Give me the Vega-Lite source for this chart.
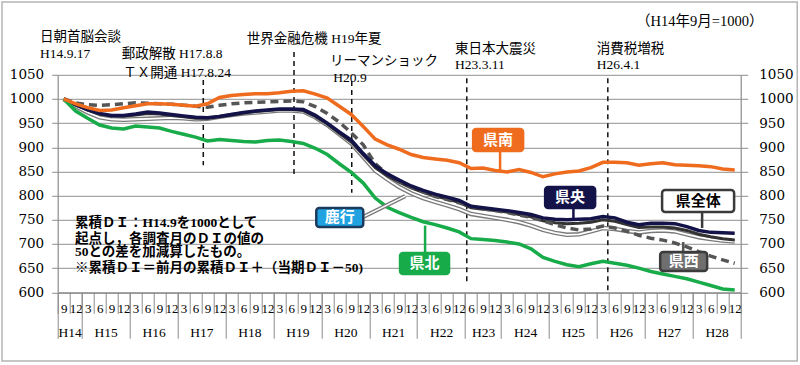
{
  "$schema": "https://vega.github.io/schema/vega-lite/v6.json",
  "width": 683,
  "height": 217.5,
  "autosize": {"type": "none"},
  "padding": {"left": 57.7, "top": 74.8, "right": 59.3, "bottom": 72.7},
  "background": "#ffffff",
  "config": {
    "view": {"stroke": null},
    "axis": {"labelColor": "#000000", "title": null}
  },
  "datasets": {
    "di": [
      {"p":"H14.9","i":0,"all":1000,"chuo":1000,"nishi":1000,"rokko":1000,"kita":1000,"minami":1000},
      {"p":"H14.12","i":1,"all":987,"chuo":988,"nishi":992,"rokko":985,"kita":975,"minami":990},
      {"p":"H15.3","i":2,"all":977,"chuo":978,"nishi":988,"rokko":972,"kita":960,"minami":982},
      {"p":"H15.6","i":3,"all":969,"chuo":970,"nishi":987,"rokko":962,"kita":946,"minami":976},
      {"p":"H15.9","i":4,"all":965,"chuo":966,"nishi":988,"rokko":958,"kita":940,"minami":977},
      {"p":"H15.12","i":5,"all":964,"chuo":966,"nishi":990,"rokko":957,"kita":938,"minami":982},
      {"p":"H16.3","i":6,"all":967,"chuo":969,"nishi":992,"rokko":958,"kita":944,"minami":986},
      {"p":"H16.6","i":7,"all":970,"chuo":973,"nishi":991,"rokko":959,"kita":942,"minami":990},
      {"p":"H16.9","i":8,"all":969,"chuo":971,"nishi":990,"rokko":960,"kita":940,"minami":990},
      {"p":"H16.12","i":9,"all":966,"chuo":968,"nishi":989,"rokko":961,"kita":933,"minami":989},
      {"p":"H17.3","i":10,"all":963,"chuo":965,"nishi":987,"rokko":960,"kita":927,"minami":987},
      {"p":"H17.6","i":11,"all":960,"chuo":962,"nishi":985,"rokko":958,"kita":921,"minami":985},
      {"p":"H17.9","i":12,"all":960,"chuo":961,"nishi":983,"rokko":959,"kita":913,"minami":990},
      {"p":"H17.12","i":13,"all":963,"chuo":964,"nishi":987,"rokko":963,"kita":916,"minami":1003},
      {"p":"H18.3","i":14,"all":967,"chuo":968,"nishi":990,"rokko":967,"kita":914,"minami":1007},
      {"p":"H18.6","i":15,"all":971,"chuo":972,"nishi":992,"rokko":970,"kita":912,"minami":1009},
      {"p":"H18.9","i":16,"all":974,"chuo":975,"nishi":993,"rokko":972,"kita":911,"minami":1011},
      {"p":"H18.12","i":17,"all":976,"chuo":977,"nishi":994,"rokko":974,"kita":914,"minami":1011},
      {"p":"H19.3","i":18,"all":978,"chuo":979,"nishi":995,"rokko":976,"kita":915,"minami":1013},
      {"p":"H19.6","i":19,"all":978,"chuo":979,"nishi":996,"rokko":976,"kita":912,"minami":1016},
      {"p":"H19.9","i":20,"all":976,"chuo":978,"nishi":994,"rokko":974,"kita":908,"minami":1017},
      {"p":"H19.12","i":21,"all":964,"chuo":966,"nishi":984,"rokko":962,"kita":898,"minami":1010},
      {"p":"H20.3","i":22,"all":948,"chuo":950,"nishi":970,"rokko":946,"kita":885,"minami":1002},
      {"p":"H20.6","i":23,"all":929,"chuo":932,"nishi":952,"rokko":927,"kita":866,"minami":985},
      {"p":"H20.9","i":24,"all":911,"chuo":915,"nishi":930,"rokko":908,"kita":848,"minami":968},
      {"p":"H20.12","i":25,"all":884,"chuo":887,"nishi":905,"rokko":880,"kita":826,"minami":943},
      {"p":"H21.3","i":26,"all":858,"chuo":862,"nishi":866,"rokko":852,"kita":795,"minami":917},
      {"p":"H21.6","i":27,"all":841,"chuo":845,"nishi":845,"rokko":834,"kita":776,"minami":905},
      {"p":"H21.9","i":28,"all":828,"chuo":832,"nishi":830,"rokko":818,"kita":765,"minami":896},
      {"p":"H21.12","i":29,"all":816,"chuo":820,"nishi":818,"rokko":805,"kita":755,"minami":885},
      {"p":"H22.3","i":30,"all":807,"chuo":811,"nishi":808,"rokko":795,"kita":746,"minami":879},
      {"p":"H22.6","i":31,"all":799,"chuo":803,"nishi":798,"rokko":787,"kita":740,"minami":876},
      {"p":"H22.9","i":32,"all":793,"chuo":797,"nishi":792,"rokko":780,"kita":733,"minami":873},
      {"p":"H22.12","i":33,"all":786,"chuo":790,"nishi":785,"rokko":772,"kita":725,"minami":868},
      {"p":"H23.6","i":34,"all":775,"chuo":778,"nishi":778,"rokko":762,"kita":711,"minami":856},
      {"p":"H23.9","i":35,"all":772,"chuo":775,"nishi":773,"rokko":758,"kita":709,"minami":857},
      {"p":"H23.12","i":36,"all":769,"chuo":772,"nishi":769,"rokko":754,"kita":707,"minami":852},
      {"p":"H24.3","i":37,"all":766,"chuo":769,"nishi":765,"rokko":750,"kita":704,"minami":849},
      {"p":"H24.6","i":38,"all":761,"chuo":765,"nishi":760,"rokko":745,"kita":700,"minami":854},
      {"p":"H24.9","i":39,"all":756,"chuo":761,"nishi":755,"rokko":738,"kita":690,"minami":848},
      {"p":"H24.12","i":40,"all":748,"chuo":754,"nishi":748,"rokko":729,"kita":672,"minami":839},
      {"p":"H25.3","i":41,"all":744,"chuo":751,"nishi":740,"rokko":723,"kita":664,"minami":845},
      {"p":"H25.6","i":42,"all":742,"chuo":750,"nishi":733,"rokko":719,"kita":657,"minami":849},
      {"p":"H25.9","i":43,"all":743,"chuo":751,"nishi":729,"rokko":720,"kita":653,"minami":851},
      {"p":"H25.12","i":44,"all":745,"chuo":752,"nishi":731,"rokko":726,"kita":659,"minami":858},
      {"p":"H26.3","i":45,"all":750,"chuo":757,"nishi":737,"rokko":733,"kita":664,"minami":869},
      {"p":"H26.6","i":46,"all":747,"chuo":754,"nishi":733,"rokko":731,"kita":660,"minami":869},
      {"p":"H26.9","i":47,"all":740,"chuo":745,"nishi":726,"rokko":727,"kita":656,"minami":868},
      {"p":"H26.12","i":48,"all":734,"chuo":740,"nishi":718,"rokko":724,"kita":650,"minami":863},
      {"p":"H27.3","i":49,"all":735,"chuo":743,"nishi":712,"rokko":727,"kita":643,"minami":866},
      {"p":"H27.6","i":50,"all":735,"chuo":743,"nishi":708,"rokko":728,"kita":638,"minami":868},
      {"p":"H27.9","i":51,"all":733,"chuo":742,"nishi":702,"rokko":726,"kita":633,"minami":864},
      {"p":"H27.12","i":52,"all":728,"chuo":736,"nishi":694,"rokko":720,"kita":628,"minami":863},
      {"p":"H28.3","i":53,"all":720,"chuo":728,"nishi":684,"rokko":714,"kita":621,"minami":862},
      {"p":"H28.6","i":54,"all":715,"chuo":724,"nishi":675,"rokko":710,"kita":614,"minami":860},
      {"p":"H28.9","i":55,"all":711,"chuo":723,"nishi":667,"rokko":707,"kita":607,"minami":855},
      {"p":"H28.12","i":56,"all":708,"chuo":722,"nishi":660,"rokko":705,"kita":605,"minami":853}
    ],
    "events": [
      {"x": 11.65, "top": 1039, "bottom": 863},
      {"x": 19.22, "top": 1097, "bottom": 837},
      {"x": 24.04, "top": 1037, "bottom": 806},
      {"x": 33.64, "top": 1043, "bottom": 617},
      {"x": 45.41, "top": 1043, "bottom": 600}
    ],
    "eventLabels": [
      {"x": -1.977, "y": 1127.3, "text": "日朝首脳会談"},
      {"x": -1.977, "y": 1093.1, "text": "H14.9.17"},
      {"x": 4.84, "y": 1093.1, "text": "郵政解散 H17.8.8"},
      {"x": 4.976, "y": 1054.2, "text": "ＴＸ開通 H17.8.24"},
      {"x": 15.28, "y": 1124.1, "text": "世界金融危機 H19年夏"},
      {"x": 22.23, "y": 1078.6, "text": "リーマンショック"},
      {"x": 22.5, "y": 1043.5, "text": "H20.9"},
      {"x": 32.66, "y": 1103.5, "text": "東日本大震災"},
      {"x": 32.66, "y": 1070.3, "text": "H23.3.11"},
      {"x": 44.49, "y": 1103.5, "text": "消費税増税"},
      {"x": 44.49, "y": 1070.3, "text": "H26.4.1"}
    ],
    "notes": [
      {"x": 0.944, "y": 742.4, "text": "累積ＤＩ：H14.9を1000として"},
      {"x": 0.944, "y": 710.3, "text": "起点し，各調査月のＤＩの値の"},
      {"x": 0.944, "y": 682.4, "text": "50との差を加減算したもの。"},
      {"x": 0.944, "y": 649.7, "text": "※累積ＤＩ＝前月の累積ＤＩ＋（当期ＤＩ－50)"}
    ],
    "boxes": [
      {"name":"県南","x1":34.17,"x2":38.34,"y1":937.9,"y2":892.4,"tx":36.25,"ty":915.2,"lx":36.42,"ly1":892.4,"ly2":853},
      {"name":"県央","x1":40.18,"x2":44.35,"y1":817.9,"y2":774.5,"tx":42.26,"ty":796.2,"lx":42.54,"ly1":774.5,"ly2":752},
      {"name":"県全体","x1":49.94,"x2":55.95,"y1":811.7,"y2":766.2,"tx":52.95,"ty":789,"lx":53.28,"ly1":766.2,"ly2":733},
      {"name":"県西","x1":49.78,"x2":53.7,"y1":683.4,"y2":644,"tx":51.74,"ty":663.8,"lx":51.7,"ly1":683.4,"ly2":704},
      {"name":"県北","x1":28.07,"x2":32.16,"y1":681.4,"y2":638,"tx":30.12,"ty":659.6,"lx":30.16,"ly1":681.4,"ly2":738},
      {"name":"鹿行","x1":21.08,"x2":25.0,"y1":774.5,"y2":735.2,"tx":23.04,"ty":754.8}
    ],
    "rokkoLink": [
      {"x": 25.0, "y": 756, "x2": 28.5, "y2": 799}
    ]
  },
  "layer": [
    {
      "data": {"values": [{}]},
      "mark": {"type": "rect", "fill": "transparent", "stroke": "#b4b4b4", "strokeWidth": 1.5},
      "encoding": {
        "x": {"datum": -5.15, "type": "quantitative", "scale": {"domain": [-0.5, 56.5], "nice": false, "zero": false}, "axis": null},
        "x2": {"datum": 61.22},
        "y": {"datum": 1200.7, "type": "quantitative", "scale": {"domain": [600, 1050], "nice": false, "zero": false}, "axis": null},
        "y2": {"datum": 457.9}
      }
    },
    {
      "data": {"name": "events"},
      "mark": {"type": "rule", "color": "#111111", "strokeWidth": 1.5, "strokeDash": [5, 4]},
      "encoding": {
        "x": {"field": "x", "type": "quantitative",
          "axis": {"orient": "bottom", "values": [-0.5,0.5,1.5,2.5,3.5,4.5,5.5,6.5,7.5,8.5,9.5,10.5,11.5,12.5,13.5,14.5,15.5,16.5,17.5,18.5,19.5,20.5,21.5,22.5,23.5,24.5,25.5,26.5,27.5,28.5,29.5,30.5,31.5,32.5,33.5,34.5,35.5,36.5,37.5,38.5,39.5,40.5,41.5,42.5,43.5,44.5,45.5,46.5,47.5,48.5,49.5,50.5,51.5,52.5,53.5,54.5,55.5,56.5],
            "labels": false, "ticks": true, "tickSize": 21, "tickColor": "#8c8c8c", "tickWidth": 1,
            "domain": true, "domainColor": "#8c8c8c", "domainWidth": 1.2, "grid": false, "title": null}},
        "y": {"field": "top", "type": "quantitative",
          "axis": {"orient": "left", "values": [600,650,700,750,800,850,900,950,1000,1050], "format": "d",
            "grid": true, "gridColor": "#a6a6a6", "gridWidth": 1.3,
            "domain": true, "domainColor": "#8c8c8c", "domainWidth": 1.2,
            "ticks": true, "tickSize": 6, "tickColor": "#8c8c8c",
            "labelPadding": 8, "labelFont": "DejaVu Serif", "labelFontSize": 13.5, "labelFlush": false, "title": null}},
        "y2": {"field": "bottom"}
      }
    },
    {
      "data": {"name": "di"},
      "mark": {"type": "line", "color": "#7a7a7a", "strokeWidth": 4.5},
      "encoding": {
        "x": {"field": "i", "type": "quantitative",
          "axis": {"orient": "bottom", "values": [0,1,2,3,4,5,6,7,8,9,10,11,12,13,14,15,16,17,18,19,20,21,22,23,24,25,26,27,28,29,30,31,32,33,34,35,36,37,38,39,40,41,42,43,44,45,46,47,48,49,50,51,52,53,54,55,56],
            "ticks": false, "tickSize": 0, "domain": false, "grid": false,
            "labelExpr": "datum.value == 0 ? '9' : datum.value == 1 ? '12' : datum.value < 34 ? '' + ((datum.value - 2) % 4 + 1) * 3 : datum.value < 37 ? '' + (datum.value - 32) * 3 : '' + ((datum.value - 37) % 4 + 1) * 3",
            "labelFont": "Liberation Serif", "labelFontSize": 13, "labelBaseline": "middle", "labelPadding": 16,
            "labelAngle": 0, "labelOverlap": false, "labelFlush": false, "labelBound": false, "title": null}},
        "y": {"field": "rokko", "type": "quantitative",
          "axis": {"orient": "right", "values": [600,650,700,750,800,850,900,950,1000,1050], "format": "d",
            "grid": false, "domain": true, "domainColor": "#8c8c8c", "domainWidth": 1.2,
            "ticks": true, "tickSize": 7, "tickColor": "#8c8c8c",
            "labelPadding": 11, "labelFont": "DejaVu Serif", "labelFontSize": 13.5, "labelFlush": false, "title": null}}
      }
    },
    {
      "data": {"name": "di"},
      "mark": {"type": "line", "color": "#ffffff", "strokeWidth": 1.8},
      "encoding": {
        "x": {"field": "i", "type": "quantitative",
          "axis": {"orient": "bottom", "values": [-0.5,1.5,5.5,9.5,13.5,17.5,21.5,25.5,29.5,33.5,36.5,40.5,44.5,48.5,52.5,56.5],
            "labels": false, "ticks": true, "tickSize": 46, "tickColor": "#8c8c8c", "tickWidth": 1,
            "domain": false, "grid": false, "title": null}},
        "y": {"field": "rokko", "type": "quantitative", "axis": null}
      }
    },
    {
      "data": {"name": "di"},
      "mark": {"type": "line", "color": "#333333", "strokeWidth": 3},
      "encoding": {
        "x": {"field": "i", "type": "quantitative",
          "axis": {"orient": "bottom", "values": [0.5,3.5,7.5,11.5,15.5,19.5,23.5,27.5,31.5,35,38.5,42.5,46.5,50.5,54.5],
            "ticks": false, "tickSize": 0, "domain": false, "grid": false,
            "labelExpr": "'H' + (datum.value < 1 ? 14 : datum.value < 34 ? 15 + floor((datum.value - 1.5) / 4) : datum.value < 37 ? 23 : 24 + floor((datum.value - 36.5) / 4))",
            "labelFont": "Liberation Serif", "labelFontSize": 13.5, "labelBaseline": "middle", "labelPadding": 40,
            "labelAngle": 0, "labelOverlap": false, "labelFlush": false, "labelBound": false, "title": null}},
        "y": {"field": "all", "type": "quantitative", "axis": null}
      }
    },
    {
      "data": {"name": "di"},
      "mark": {"type": "line", "color": "#555555", "strokeWidth": 3.5, "strokeDash": [8, 5]},
      "encoding": {
        "x": {"field": "i", "type": "quantitative", "axis": null},
        "y": {"field": "nishi", "type": "quantitative", "axis": null}
      }
    },
    {
      "data": {"name": "di"},
      "mark": {"type": "line", "color": "#13134a", "strokeWidth": 3.5},
      "encoding": {
        "x": {"field": "i", "type": "quantitative", "axis": null},
        "y": {"field": "chuo", "type": "quantitative", "axis": null}
      }
    },
    {
      "data": {"name": "di"},
      "mark": {"type": "line", "color": "#18ab4a", "strokeWidth": 3.5},
      "encoding": {
        "x": {"field": "i", "type": "quantitative", "axis": null},
        "y": {"field": "kita", "type": "quantitative", "axis": null}
      }
    },
    {
      "data": {"name": "di"},
      "mark": {"type": "line", "color": "#ef6c1f", "strokeWidth": 3.5},
      "encoding": {
        "x": {"field": "i", "type": "quantitative", "axis": null},
        "y": {"field": "minami", "type": "quantitative", "axis": null}
      }
    },
    {
      "data": {"name": "rokkoLink"},
      "mark": {"type": "rule", "color": "#7a7a7a", "strokeWidth": 4},
      "encoding": {
        "x": {"field": "x", "type": "quantitative", "axis": null},
        "y": {"field": "y", "type": "quantitative", "axis": null},
        "x2": {"field": "x2"},
        "y2": {"field": "y2"}
      }
    },
    {
      "data": {"name": "rokkoLink"},
      "mark": {"type": "rule", "color": "#ffffff", "strokeWidth": 1.5},
      "encoding": {
        "x": {"field": "x", "type": "quantitative", "axis": null},
        "y": {"field": "y", "type": "quantitative", "axis": null},
        "x2": {"field": "x2"},
        "y2": {"field": "y2"}
      }
    },
    {
      "data": {"name": "boxes"},
      "transform": [{"filter": "isValid(datum.lx)"}],
      "mark": {"type": "rule", "strokeWidth": 2.5},
      "encoding": {
        "x": {"field": "lx", "type": "quantitative", "axis": null},
        "y": {"field": "ly1", "type": "quantitative", "axis": null},
        "y2": {"field": "ly2"},
        "color": {"field": "name", "type": "nominal", "legend": null,
          "scale": {"domain": ["県南","県央","県全体","県西","県北"], "range": ["#ef6c1f","#13134a","#3b3b3b","#555555","#18ab4a"]}}
      }
    },
    {
      "data": {"name": "boxes"},
      "mark": {"type": "rect", "strokeWidth": 2.5, "cornerRadius": 3},
      "encoding": {
        "x": {"field": "x1", "type": "quantitative", "axis": null},
        "x2": {"field": "x2"},
        "y": {"field": "y1", "type": "quantitative", "axis": null},
        "y2": {"field": "y2"},
        "fill": {"field": "name", "type": "nominal", "legend": null,
          "scale": {"domain": ["県南","県央","県全体","県西","県北","鹿行"], "range": ["#ef6c1f","#13134a","#ffffff","#6f6f6f","#18ab4a","#21a3e1"]}},
        "stroke": {"field": "name", "type": "nominal", "legend": null,
          "scale": {"domain": ["県南","県央","県全体","県西","県北","鹿行"], "range": ["#ef6c1f","#13134a","#3b3b3b","#3b3b3b","#18ab4a","#1c3a5c"]}},
        "strokeDash": {"field": "name", "type": "nominal", "legend": null,
          "scale": {"domain": ["県南","県央","県全体","県西","県北","鹿行"], "range": [[1,0],[1,0],[1,0],[3,2],[1,0],[1,0]]}}
      }
    },
    {
      "data": {"name": "boxes"},
      "transform": [{"filter": "datum.name != '県全体'"}],
      "mark": {"type": "text", "color": "#ffffff", "font": "Noto Sans CJK JP", "fontWeight": "bold", "fontSize": 15, "align": "center", "baseline": "middle"},
      "encoding": {
        "x": {"field": "tx", "type": "quantitative", "axis": null},
        "y": {"field": "ty", "type": "quantitative", "axis": null},
        "text": {"field": "name"}
      }
    },
    {
      "data": {"name": "boxes"},
      "transform": [{"filter": "datum.name == '県全体'"}],
      "mark": {"type": "text", "color": "#000000", "font": "Noto Sans CJK JP", "fontWeight": "bold", "fontSize": 15, "align": "center", "baseline": "middle"},
      "encoding": {
        "x": {"field": "tx", "type": "quantitative", "axis": null},
        "y": {"field": "ty", "type": "quantitative", "axis": null},
        "text": {"field": "name"}
      }
    },
    {
      "data": {"name": "eventLabels"},
      "mark": {"type": "text", "color": "#000000", "font": "Liberation Serif, Noto Sans CJK JP", "fontSize": 13.5, "align": "left", "baseline": "middle"},
      "encoding": {
        "x": {"field": "x", "type": "quantitative", "axis": null},
        "y": {"field": "y", "type": "quantitative", "axis": null},
        "text": {"field": "text"}
      }
    },
    {
      "data": {"values": [{"x": 58.4, "y": 1159.9, "text": "（H14年9月=1000）"}]},
      "mark": {"type": "text", "color": "#000000", "font": "Liberation Serif, Noto Sans CJK JP", "fontSize": 14.5, "align": "right", "baseline": "middle"},
      "encoding": {
        "x": {"field": "x", "type": "quantitative", "axis": null},
        "y": {"field": "y", "type": "quantitative", "axis": null},
        "text": {"field": "text"}
      }
    },
    {
      "data": {"name": "notes"},
      "mark": {"type": "text", "color": "#000000", "font": "Liberation Serif, Noto Sans CJK JP", "fontWeight": "bold", "fontSize": 13.5, "align": "left", "baseline": "middle"},
      "encoding": {
        "x": {"field": "x", "type": "quantitative", "axis": null},
        "y": {"field": "y", "type": "quantitative", "axis": null},
        "text": {"field": "text"}
      }
    }
  ],
  "resolve": {"axis": {"x": "independent", "y": "independent"}}
}
